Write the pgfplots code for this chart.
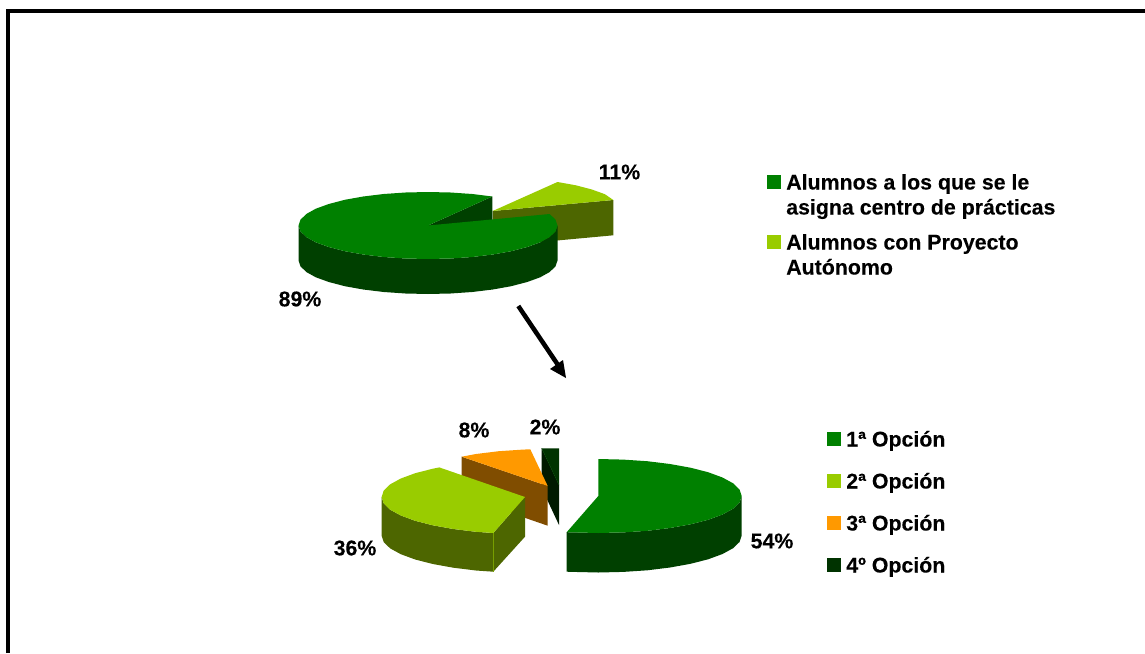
\documentclass[border=0pt]{standalone}
\usepackage{pgfplots}
\pgfplotsset{compat=1.18}
\usepackage{fontspec}
\setmainfont[BoldFeatures={FakeBold=0.15}]{Liberation Sans}
\definecolor{mainG}{HTML}{008000}
\definecolor{mainGd}{HTML}{004000}
\definecolor{lime}{HTML}{99CC00}
\definecolor{limed}{HTML}{4D6600}
\definecolor{orng}{HTML}{FF9900}
\definecolor{orngd}{HTML}{804D00}
\definecolor{deep}{HTML}{003300}
\definecolor{deepd}{HTML}{001A00}
\newcommand{\lbl}[2]{\node[font=\fontsize{16}{19}\selectfont\bfseries,inner sep=0pt,anchor=center] at (axis cs:#1) {#2};}
\newcommand{\leg}[2]{\node[font=\fontsize{16}{19}\selectfont\bfseries,inner sep=0pt,anchor=base west] at (axis cs:#1) {#2};}
\begin{document}
\begin{tikzpicture}
\useasboundingbox (0,0) rectangle (858.75pt,489.75pt);
\begin{axis}[
  at={(0,0)}, anchor=south west,
  width=858.75pt, height=489.75pt, scale only axis,
  xmin=0, xmax=1145, ymin=0, ymax=653, y dir=reverse,
  hide axis, clip=true]
% frame along the top and the left
\addplot[black, line width=3pt] coordinates {(8,653) (8,11) (1145,11)};

% upper pie: project slice, then the large slice
\addplot[fill=limed, draw=none] coordinates {(492.7,211) (613.3,200) (613.3,235.3) (557,240.5) (492.7,246)} --cycle;
\addplot[fill=lime, draw=none] coordinates {(492.7,211) (557.5,182) (575.9,185.3) (591.9,189.5) (604.9,194.2) (613.3,200)} --cycle;
\addplot[fill=mainGd, draw=none] coordinates {(428,225.5) (492.3,196.5) (492.3,231) (428,260)} --cycle;
\addplot[fill=mainGd, draw=none] coordinates {
 (298.5,225.5) (300.5,231.3) (306.3,237) (315.8,242.3) (328.8,247) (344.8,251.2) (363.2,254.5) (383.7,257) (405.5,258.5) (428,259)
 (450.5,258.5) (472.3,257) (492.8,254.5) (511.2,251.2) (527.2,247) (540.2,242.3) (549.7,237) (555.5,231.3) (557.5,225.5)
 (557.5,260.5) (555.5,266.3) (549.7,272) (540.2,277.3) (527.2,282) (511.2,286.2) (492.8,289.5) (472.3,292) (450.5,293.5) (428,294)
 (405.5,293.5) (383.7,292) (363.2,289.5) (344.8,286.2) (328.8,282) (315.8,277.3) (306.3,272) (300.5,266.3) (298.5,260.5)} --cycle;
\addplot[fill=mainG, draw=none] coordinates {
 (428,225.5) (492.3,196.5) (472.3,194) (450.5,192.5) (428,192) (405.5,192.5) (383.7,194) (363.2,196.5) (344.8,199.8) (328.8,204)
 (315.8,208.7) (306.3,214) (300.5,219.7) (298.5,225.5) (300.5,231.3) (306.3,237) (315.8,242.3) (328.8,247) (344.8,251.2) (363.2,254.5)
 (383.7,257) (405.5,258.5) (428,259) (450.5,258.5) (472.3,257) (492.8,254.5) (511.2,251.2) (527.2,247) (540.2,242.3) (549.7,237)
 (555.5,231.3) (557.5,225.5) (555.5,219.7) (549.7,214)} --cycle;

% arrow between the two pies
\addplot[black, line width=3.4pt] coordinates {(518.3,306) (558,365)};
\addplot[fill=black, draw=none] coordinates {(566,378) (550,369) (563,360)} --cycle;

% lower pie, back to front
\addplot[fill=deepd, draw=none] coordinates {(541.7,448.3) (559,485) (559,525) (541.7,488)} --cycle;
\addplot[fill=deep, draw=none] coordinates {(541.7,448.3) (559,448.3) (559,485)} --cycle;
\addplot[color=black!40!green!45!black, line width=0.3pt] coordinates {(541.7,448.3) (559,485)};
\addplot[fill=orngd, draw=none] coordinates {(461.7,456.7) (547.7,486) (547.7,525.7) (461.7,496)} --cycle;
\addplot[fill=orng, draw=none] coordinates {(547.7,486) (530.3,449.3) (522.8,449.6) (498.8,451.2) (476,454) (461.7,456.7)} --cycle;
\addplot[fill=limed, draw=none] coordinates {
 (381.6,497) (383.7,503.4) (390.2,509.7) (400.8,515.5) (415.2,520.8) (432.8,525.3) (453.3,529) (476,531.8) (493.3,533)
 (493.3,571.7) (476,570.5) (453.3,567.7) (432.8,564) (415.2,559.5) (400.8,554.2) (390.2,548.4) (383.7,542.1) (381.6,535.7)} --cycle;
\addplot[fill=limed, draw=none] coordinates {(493.3,533) (525,497) (525,536.7) (493.3,571.7)} --cycle;
\addplot[color=lime!55!limed, line width=0.4pt] coordinates {(493.3,533) (493.3,571.7)};
\addplot[fill=lime, draw=none] coordinates {
 (525,497) (439.3,467.4) (432.8,468.7) (415.2,473.2) (400.8,478.5) (390.2,484.3) (383.7,490.6) (381.6,497) (383.7,503.4) (390.2,509.7)
 (400.8,515.5) (415.2,520.8) (432.8,525.3) (453.3,529) (476,531.8) (493.3,533)} --cycle;
\addplot[fill=mainGd, draw=none] coordinates {
 (566.7,532.2) (573.3,532.4) (598.3,533) (623.3,532.4) (647.3,530.8) (670,528) (690.5,524.3) (708.1,519.8) (722.5,514.5) (733.1,508.7) (739.6,502.4) (741.7,496)
 (741.7,535.5) (739.6,541.9) (733.1,548.2) (722.5,554) (708.1,559.3) (690.5,563.8) (670,567.5) (647.3,570.3) (623.3,571.9) (598.3,572.5) (573.3,571.9) (566.7,571.7)} --cycle;
\addplot[fill=mainG, draw=none] coordinates {
 (598.3,496) (598.3,459) (623.3,459.6) (647.3,461.2) (670,464) (690.5,467.7) (708.1,472.2) (722.5,477.5) (733.1,483.3) (739.6,489.6) (741.7,496)
 (739.6,502.4) (733.1,508.7) (722.5,514.5) (708.1,519.8) (690.5,524.3) (670,528) (647.3,530.8) (623.3,532.4) (598.3,533) (573.3,532.4) (566.7,532.2)} --cycle;

% key swatches
\addplot[fill=mainG, draw=none] coordinates {(766.7,175) (781,175) (781,189) (766.7,189)} --cycle;
\addplot[fill=lime, draw=none] coordinates {(766.7,235) (781,235) (781,249) (766.7,249)} --cycle;
\addplot[fill=mainG, draw=none] coordinates {(827,432) (841,432) (841,446) (827,446)} --cycle;
\addplot[fill=lime, draw=none] coordinates {(827,474) (841,474) (841,488) (827,488)} --cycle;
\addplot[fill=orng, draw=none] coordinates {(827,516) (841,516) (841,530) (827,530)} --cycle;
\addplot[fill=deep, draw=none] coordinates {(827,558) (841,558) (841,572) (827,572)} --cycle;

% percentages
\lbl{300,299}{89\%}
\lbl{619.5,172}{11\%}
\lbl{355,548}{36\%}
\lbl{474,430}{8\%}
\lbl{545,427}{2\%}
\lbl{772,541}{54\%}

% key texts
\leg{786,189.5}{Alumnos a los que se le}
\leg{786,214.5}{asigna centro de prácticas}
\leg{786,249.5}{Alumnos con Proyecto}
\leg{786,274.5}{Autónomo}
\leg{846,446.5}{1ª Opción}
\leg{846,488.5}{2ª Opción}
\leg{846,530.5}{3ª Opción}
\leg{846,572.5}{4º Opción}
\end{axis}
\end{tikzpicture}
\end{document}
